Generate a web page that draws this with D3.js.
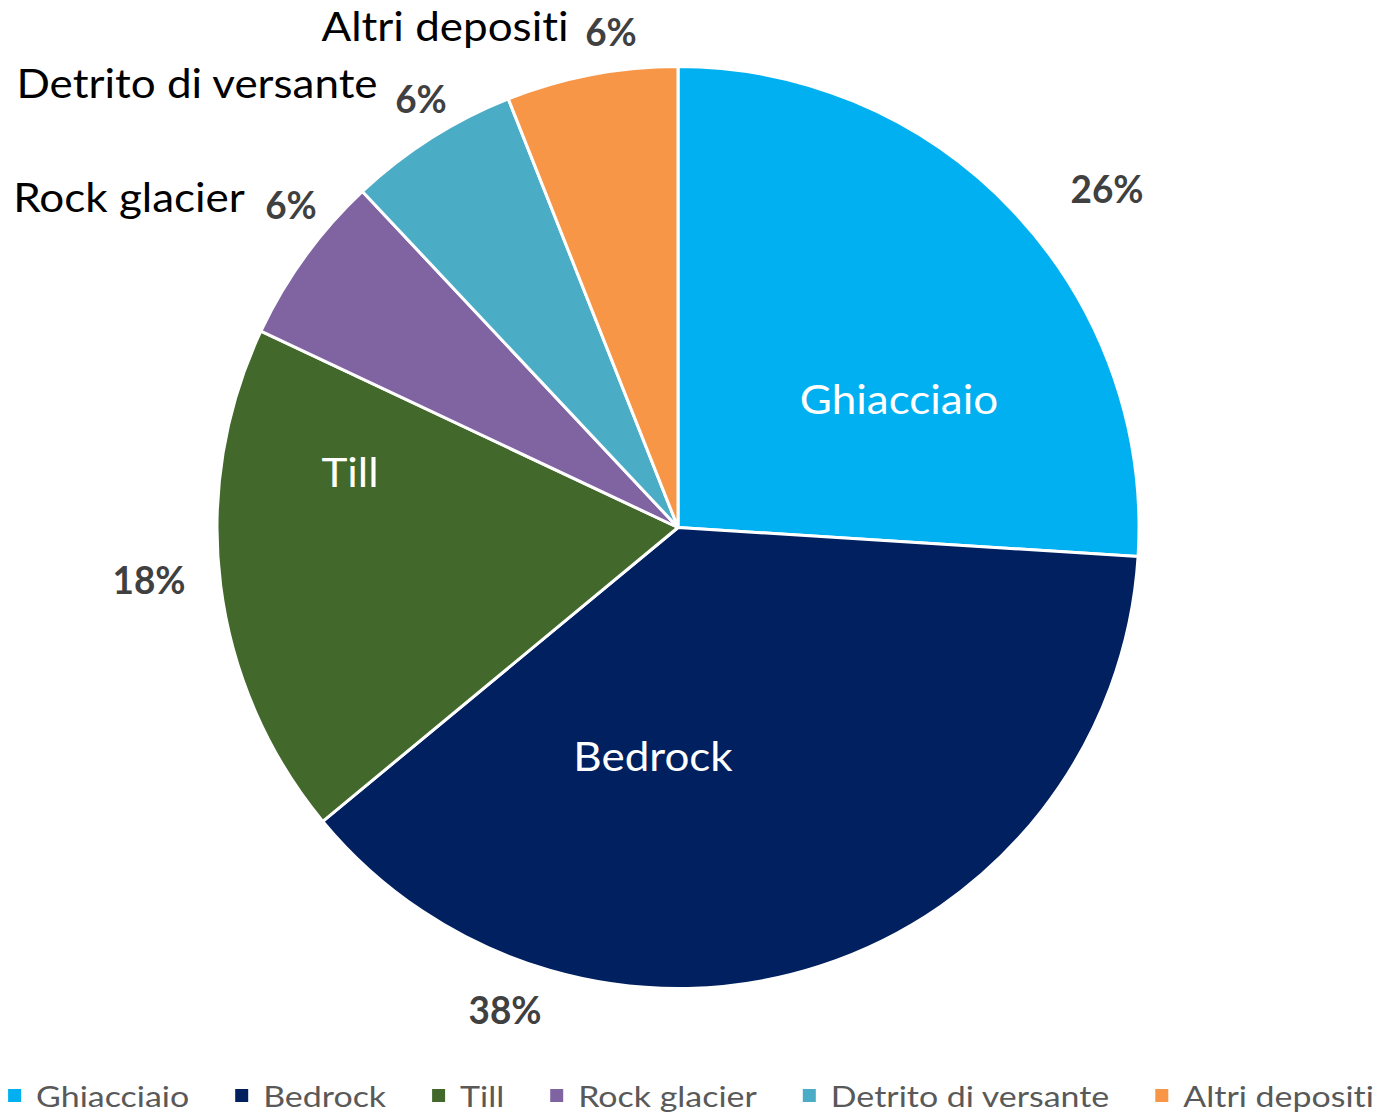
<!DOCTYPE html>
<html>
<head>
<meta charset="utf-8">
<script src="https://cdn.jsdelivr.net/npm/d3@7"></script>
<style>
  html, body { margin: 0; padding: 0; background: #ffffff; }
  svg { display: block; }
  text { font-family: Lato, "Open Sans", sans-serif; font-variant-ligatures: none; font-feature-settings: "liga" 0; }
</style>
</head>
<body>
<div id="chart"></div>
<script>
// Share of surface by deposit type (percent)
const categories = ["Ghiacciaio", "Bedrock", "Till", "Rock glacier", "Detrito di versante", "Altri depositi"];
const shares = [26, 38, 18, 6, 6, 6];
const colours = ["#00B0F0", "#002060", "#43682B", "#8064A2", "#4BACC6", "#F79646"];

const W = 1388, H = 1116;
const cx = 678, cy = 527.5, R = 461;

// hand-placed label anchors, offsets from the pie centre (text-anchor middle, baseline)
const nameLayout = {
  "Ghiacciaio":          { dx: 221, dy: -114, inside: true },
  "Bedrock":             { dx: -25, dy: 243,  inside: true },
  "Till":                { dx: -328, dy: -41, inside: true },
  "Rock glacier":        { dx: -549, dy: -316, inside: false },
  "Detrito di versante": { dx: -481, dy: -430, inside: false },
  "Altri depositi":      { dx: -233, dy: -487, inside: false }
};
const pctLayout = {
  "Ghiacciaio":          { dx: 429, dy: -325 },
  "Bedrock":             { dx: -173, dy: 496 },
  "Till":                { dx: -529, dy: 66 },
  "Rock glacier":        { dx: -387, dy: -309 },
  "Detrito di versante": { dx: -257, dy: -415 },
  "Altri depositi":      { dx: -67, dy: -482 }
};

const rows = categories.map((c, i) => ({ name: c, value: shares[i], colour: colours[i] }));
const total = d3.sum(shares);
const fmtPct = v => d3.format(".0%")(v / total);

// stretch text horizontally by a factor so the face runs as wide as a Calibri setting
function widen(sel, factor) {
  sel.each(function () {
    const w = this.getComputedTextLength();
    d3.select(this)
      .attr("textLength", (w * factor).toFixed(1))
      .attr("lengthAdjust", "spacingAndGlyphs");
  });
}

const svg = d3.select("#chart").append("svg")
  .attr("width", W).attr("height", H);

const pie = d3.pie().value(d => d.value).sort(null);
const arc = d3.arc().innerRadius(0).outerRadius(R);

const g = svg.append("g").attr("transform", `translate(${cx},${cy})`);

g.selectAll("path.slice")
  .data(pie(rows))
  .join("path")
  .attr("class", "slice")
  .attr("d", arc)
  .attr("fill", d => d.data.colour)
  .attr("stroke", "#ffffff")
  .attr("stroke-width", 3)
  .attr("stroke-linejoin", "round");

// category names
const names = g.selectAll("text.name")
  .data(rows)
  .join("text")
  .attr("class", "name")
  .attr("x", d => nameLayout[d.name].dx)
  .attr("y", d => nameLayout[d.name].dy)
  .attr("text-anchor", "middle")
  .attr("font-size", 40)
  .attr("fill", d => nameLayout[d.name].inside ? "#ffffff" : "#000000")
  .text(d => d.name);
widen(names, 1.1);

// percentages
const pcts = g.selectAll("text.pct")
  .data(rows)
  .join("text")
  .attr("class", "pct")
  .attr("x", d => pctLayout[d.name].dx)
  .attr("y", d => pctLayout[d.name].dy)
  .attr("text-anchor", "middle")
  .attr("font-size", 38)
  .attr("font-weight", 700)
  .attr("fill", "#404040")
  .text(d => fmtPct(d.value));
widen(pcts, 0.97);

// legend along the bottom
const legend = svg.append("g").attr("class", "legend");
const box = 13, boxGap = 15, itemGap = 46, legendBaseline = 1107, legendFont = 29;

const items = legend.selectAll("g.item")
  .data(rows)
  .join("g")
  .attr("class", "item");

items.append("rect")
  .attr("width", box).attr("height", box)
  .attr("y", legendBaseline - 18)
  .attr("fill", d => d.colour);

const legendText = items.append("text")
  .attr("x", box + boxGap)
  .attr("y", legendBaseline)
  .attr("font-size", legendFont)
  .attr("fill", "#595959")
  .text(d => d.name);
widen(legendText, 1.17);

// lay items out left to right from their widths, centred on the page
const widths = [];
items.each(function () {
  const t = this.querySelector("text");
  widths.push(box + boxGap + (+t.getAttribute("textLength")));
});
const totalW = d3.sum(widths) + itemGap * (widths.length - 1);
let xPos = 691 - totalW / 2;
items.attr("transform", (d, i) => {
  const t = `translate(${xPos},0)`;
  xPos += widths[i] + itemGap;
  return t;
});
</script>
</body>
</html>
